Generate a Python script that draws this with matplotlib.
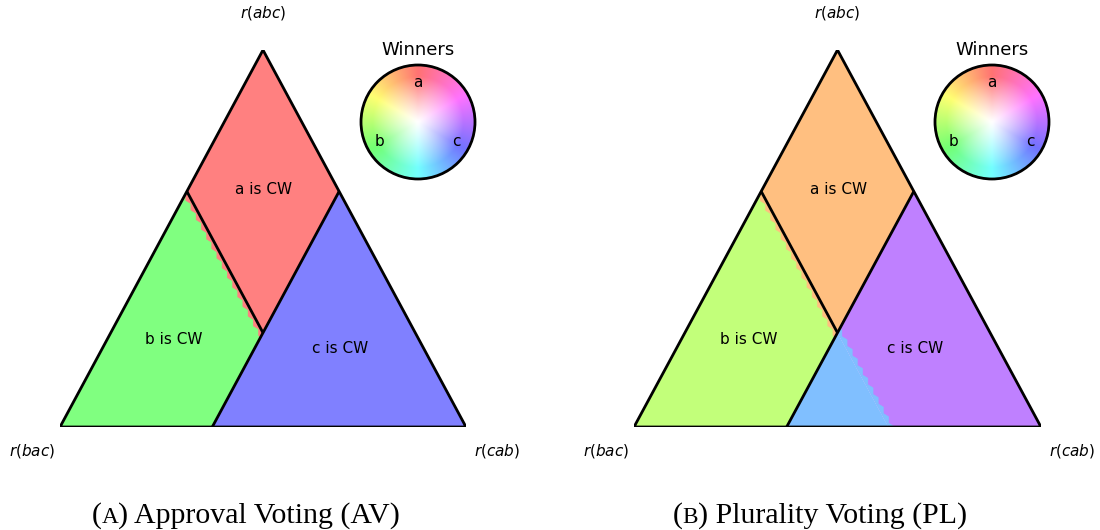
import numpy as np
import matplotlib
matplotlib.use("Agg")
import matplotlib.pyplot as plt
from matplotlib.patches import Polygon, Circle
from matplotlib.collections import PolyCollection
from matplotlib.colors import hsv_to_rgb

# ---------------- data ----------------
vertex_rankings = ["abc", "bac", "cab"]          # apex, bottom-left, bottom-right
candidates = ["a", "b", "c"]
cw_share = 0.375                                  # share of r(bac)/r(cab) at which b/c become CW
region_labels = ["a is CW", "b is CW", "c is CW"]
panel_letters = ["A", "B"]
panel_titles = ["Approval Voting (AV)", "Plurality Voting (PL)"]
av_colors = {"a": "#ff8080", "b": "#80ff80", "c": "#8080ff", "bc": "#8080ff"}
pl_colors = {"a": "#ffbf80", "b": "#c2ff7a", "c": "#bf80ff", "bc": "#80bfff"}
# (winner colour, region it bleeds into, offset of hex centres from the boundary in hex radii)
av_teeth = [("a", "b", -0.12)]
pl_teeth = [("a", "b", -0.12), ("bc", "c", 0.15)]

# ---------------- layout ----------------
FW, FH = 1100, 530
fig = plt.figure(figsize=(11, 5.3), dpi=100)
BASE_PX, APEX_PX = 427, 50
HEX_R = 6.0


def bary(wa, wb, wc):
    return (0.5 * wa + wc, wa)


def draw_panel(left_px, width_px, colors, teeth, letter, title, cap_cx, wheel_c):
    H = BASE_PX - APEX_PX
    W = width_px
    k = H / (np.sqrt(3) / 2 * W)          # vertical stretch of the simplex
    ax = fig.add_axes([left_px / FW, (FH - BASE_PX) / FH, W / FW, H / FH])
    ax.set_xlim(0, 1)
    ax.set_ylim(0, 1)
    ax.axis("off")
    t = cw_share
    A, B, C = (1, 0, 0), (0, 1, 0), (0, 0, 1)
    P1 = (1 - t, t, 0)
    P2 = (1 - t, 0, t)
    P3 = (0, 1 - t, t)
    P4 = (0, t, 1 - t)
    Q = (1 - 2 * t, t, t)
    polys = {
        "a": [A, P1, Q, P2],
        "b": [P1, B, P3, Q],
    }
    if colors["bc"] == colors["c"]:
        polys["c"] = [P2, P3, C]
    else:
        polys["c"] = [P2, Q, P4, C]
        polys["bc"] = [Q, P3, P4]
    patches = {}
    for kk, pts in polys.items():
        p = Polygon([bary(*v) for v in pts], closed=True, fc=colors[kk], ec="none", zorder=1)
        ax.add_patch(p)
        patches[kk] = p

    # hexagonal lattice (equilateral pixel units) aligned with the r(bac)=t boundary
    R = HEX_R
    w = np.sqrt(3) * R
    e1 = np.array([w, 0.0])
    e2 = np.array([w / 2, 1.5 * R])
    qx, qy = bary(*Q)
    Qe = np.array([qx * W, qy * H / k])
    n_a = np.array([np.cos(np.radians(30)), np.sin(np.radians(30))])  # toward a side
    ang = np.deg2rad(np.arange(6) * 60 + 30)
    hx, hy = R * np.cos(ang), R * np.sin(ang)
    I, J = np.meshgrid(np.arange(-60, 61), np.arange(-40, 41))
    for col, into, off in teeth:
        O = Qe - n_a * off * R
        cen = O + I.ravel()[:, None] * e1 + J.ravel()[:, None] * e2
        dd = -((cen - Qe) @ n_a)             # >0 toward b side
        if into == "b":
            sel = (dd > off * R - 1.6 * R) & (dd < off * R + 0.2 * R)
        else:
            sel = (dd < off * R + 1.6 * R) & (dd > off * R - 0.2 * R)
        sel &= (cen[:, 0] > -2 * R) & (cen[:, 0] < W + 2 * R)
        sel &= (cen[:, 1] > -2 * R) & (cen[:, 1] < H / k + 2 * R)
        verts = [np.column_stack([(cu + hx) / W, (cv + hy) * k / H]) for cu, cv in cen[sel]]
        pc = PolyCollection(verts, facecolors=colors[col], edgecolors=colors[col],
                            linewidths=0.3, zorder=2)
        ax.add_collection(pc)
        pc.set_clip_path(patches[into])

    # black boundaries
    lw = 2.0
    tri = [bary(*A), bary(*B), bary(*C)]
    ax.add_patch(Polygon(tri, closed=True, fc="none", ec="black", lw=lw, zorder=5,
                         joinstyle="miter"))
    for p, q in [(P2, P3), (P1, Q)]:
        ax.plot(*zip(bary(*p), bary(*q)), color="black", lw=lw, zorder=5,
                solid_capstyle="butt")

    # labels
    lab_pos = [(0.502, 0.629), (0.281, 0.231), (0.690, 0.207)]
    for s, (x, y) in zip(region_labels, lab_pos):
        ax.text(x, y, s, ha="center", va="center", fontsize=11, zorder=6)
    ax.text(0.5, 1.098, "$r(%s)$" % vertex_rankings[0], ha="center", va="center",
            fontsize=11, clip_on=False)
    ax.text(-0.069, -0.064, "$r(%s)$" % vertex_rankings[1], ha="center", va="center",
            fontsize=11, clip_on=False)
    ax.text(1.076, -0.064, "$r(%s)$" % vertex_rankings[2], ha="center", va="center",
            fontsize=11, clip_on=False)

    # colour wheel legend
    wcx, wcy = wheel_c
    wr = 57
    box = wr * 1.5
    wax = fig.add_axes([(wcx - box) / FW, (FH - wcy - box) / FH, 2 * box / FW, 2 * box / FH])
    wax.set_xlim(-1.5, 1.5)
    wax.set_ylim(-1.5, 1.5)
    wax.axis("off")
    n = 300
    g = np.linspace(-1, 1, n)
    X, Y = np.meshgrid(g, g)
    r = np.sqrt(X ** 2 + Y ** 2)
    th = np.degrees(np.arctan2(Y, X))
    hue = np.mod(th - 90, 360) / 360
    sat = 0.55 * np.clip(r / 0.8, 0, 1) ** 1.1
    img = hsv_to_rgb(np.dstack([hue, sat, np.ones_like(r)]))
    im = wax.imshow(img, extent=[-1, 1, -1, 1], origin="lower", interpolation="bilinear")
    circ = Circle((0, 0), 1, fc="none", ec="black", lw=2.0, zorder=3)
    wax.add_patch(circ)
    im.set_clip_path(Circle((0, 0), 1, transform=wax.transData))
    wax.text(0, 1.17, "Winners", ha="center", va="baseline", fontsize=13)
    for s, (x, y) in zip(candidates, [(0, 0.70), (-0.667, -0.35), (0.667, -0.35)]):
        wax.text(x, y, s, ha="center", va="center", fontsize=11, zorder=4)

    # caption with small-caps letter
    renderer = fig.canvas.get_renderer()
    fs = 21.5
    pieces = [("(", fs), (letter, fs * 0.78), (") " + title, fs)]
    texts = []
    widths = []
    for s, f in pieces:
        tx = fig.text(0, 1 - 523 / FH, s, fontsize=f, family="Liberation Serif", va="baseline")
        bb = tx.get_window_extent(renderer)
        texts.append(tx)
        widths.append(bb.width)
    x0 = cap_cx - sum(widths) / 2
    for tx, wd in zip(texts, widths):
        tx.set_x(x0 / FW)
        x0 += wd


draw_panel(60, 406, av_colors, av_teeth, panel_letters[0], panel_titles[0], 246, (418, 122))
draw_panel(634, 407, pl_colors, pl_teeth, panel_letters[1], panel_titles[1], 820, (992, 122))

fig.savefig("out.png", dpi=100)
